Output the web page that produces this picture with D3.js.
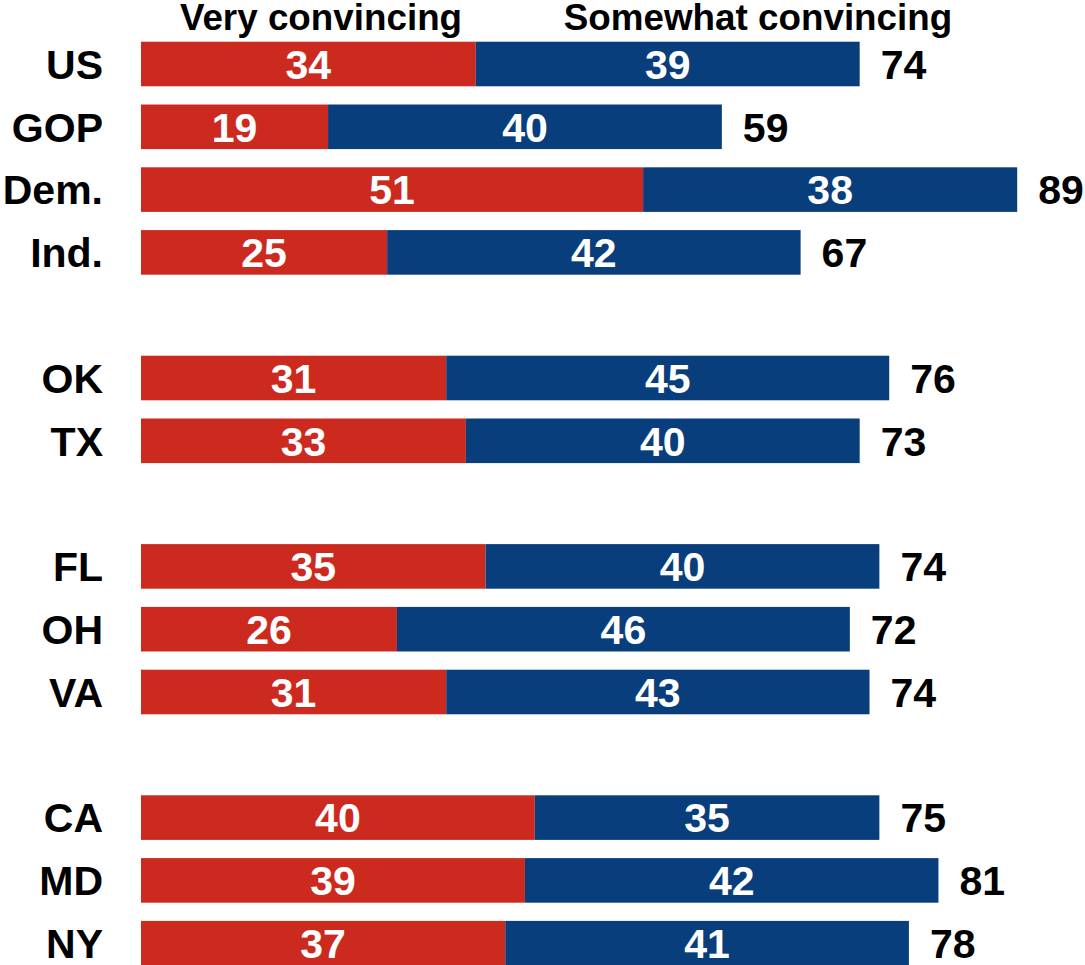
<!DOCTYPE html>
<html>
<head>
<meta charset="utf-8">
<script src="https://cdn.jsdelivr.net/npm/d3@7"></script>
<style>
  html, body { margin: 0; padding: 0; background: #ffffff; }
  svg { display: block; }
  text { font-family: "Liberation Sans", Arial, Helvetica, sans-serif; font-weight: bold; }
</style>
</head>
<body>
<div id="chart"></div>
<script>
// Share finding the argument convincing, by group and state (%)
const categories = ["US", "GOP", "Dem.", "Ind.", "OK", "TX", "FL", "OH", "VA", "CA", "MD", "NY"];
const groupIndex = [0, 0, 0, 0, 1, 1, 2, 2, 2, 3, 3, 3];
const veryConvincing = [34, 19, 51, 25, 31, 33, 35, 26, 31, 40, 39, 37];
const somewhatConvincing = [39, 40, 38, 42, 45, 40, 40, 46, 43, 35, 42, 41];
const totals = [74, 59, 89, 67, 76, 73, 74, 72, 74, 75, 81, 78];
const seriesNames = ["Very convincing", "Somewhat convincing"];
const seriesColors = ["#cd2a1f", "#083e7b"];

const width = 1085, height = 965;

const svg = d3.select("#chart").append("svg")
  .attr("width", width)
  .attr("height", height);

// Row slots: a blank slot separates each group of rows
const slots = [];
categories.forEach((c, i) => {
  if (i > 0 && groupIndex[i] !== groupIndex[i - 1]) slots.push("gap-" + groupIndex[i]);
  slots.push(c);
});

const step = 62.8;
const firstCenter = 64;
const y = d3.scaleBand()
  .domain(slots)
  .range([firstCenter - step / 2, firstCenter - step / 2 + slots.length * step])
  .paddingInner(0.29)
  .paddingOuter(0.145);

const x = d3.scaleLinear()
  .domain([0, 100])
  .range([141, 1125.5]);

const rows = categories.map((c, i) => ({
  cat: c,
  very: veryConvincing[i],
  somewhat: somewhatConvincing[i],
  total: totals[i]
}));

const stack = d3.stack().keys(["very", "somewhat"]);
const layers = stack(rows);

const fontSize = 41;

// Stacked bar segments
const layerG = svg.selectAll("g.layer")
  .data(layers)
  .join("g")
  .attr("class", "layer")
  .attr("fill", (d, i) => seriesColors[i]);

layerG.selectAll("rect")
  .data(d => d)
  .join("rect")
  .attr("x", d => x(d[0]))
  .attr("y", d => y(d.data.cat))
  .attr("width", d => x(d[1]) - x(d[0]))
  .attr("height", y.bandwidth());

// Segment value labels
layerG.selectAll("text")
  .data((d, i) => d.map(s => ({ s, key: layers[i].key })))
  .join("text")
  .attr("x", d => (x(d.s[0]) + x(d.s[1])) / 2)
  .attr("y", d => y(d.s.data.cat) + y.bandwidth() / 2)
  .attr("dy", "0.36em")
  .attr("text-anchor", "middle")
  .attr("fill", "#ffffff")
  .style("font-size", fontSize + "px")
  .text(d => d.s.data[d.key]);

// Category labels
svg.append("g")
  .selectAll("text")
  .data(rows)
  .join("text")
  .attr("x", 103)
  .attr("y", d => y(d.cat) + y.bandwidth() / 2)
  .attr("dy", "0.36em")
  .attr("text-anchor", "end")
  .attr("fill", "#000000")
  .style("font-size", fontSize + "px")
  .text(d => d.cat);

// Totals to the right of each bar
svg.append("g")
  .selectAll("text")
  .data(rows)
  .join("text")
  .attr("x", d => x(d.very + d.somewhat) + 21)
  .attr("y", d => y(d.cat) + y.bandwidth() / 2)
  .attr("dy", "0.36em")
  .attr("text-anchor", "start")
  .attr("fill", "#000000")
  .style("font-size", fontSize + "px")
  .text(d => d.total);

// Series headers
const headerX = [321, 758];
svg.append("g")
  .selectAll("text")
  .data(seriesNames)
  .join("text")
  .attr("x", (d, i) => headerX[i])
  .attr("y", 30)
  .attr("text-anchor", "middle")
  .attr("fill", "#000000")
  .style("font-size", "36.8px")
  .text(d => d);
</script>
</body>
</html>
